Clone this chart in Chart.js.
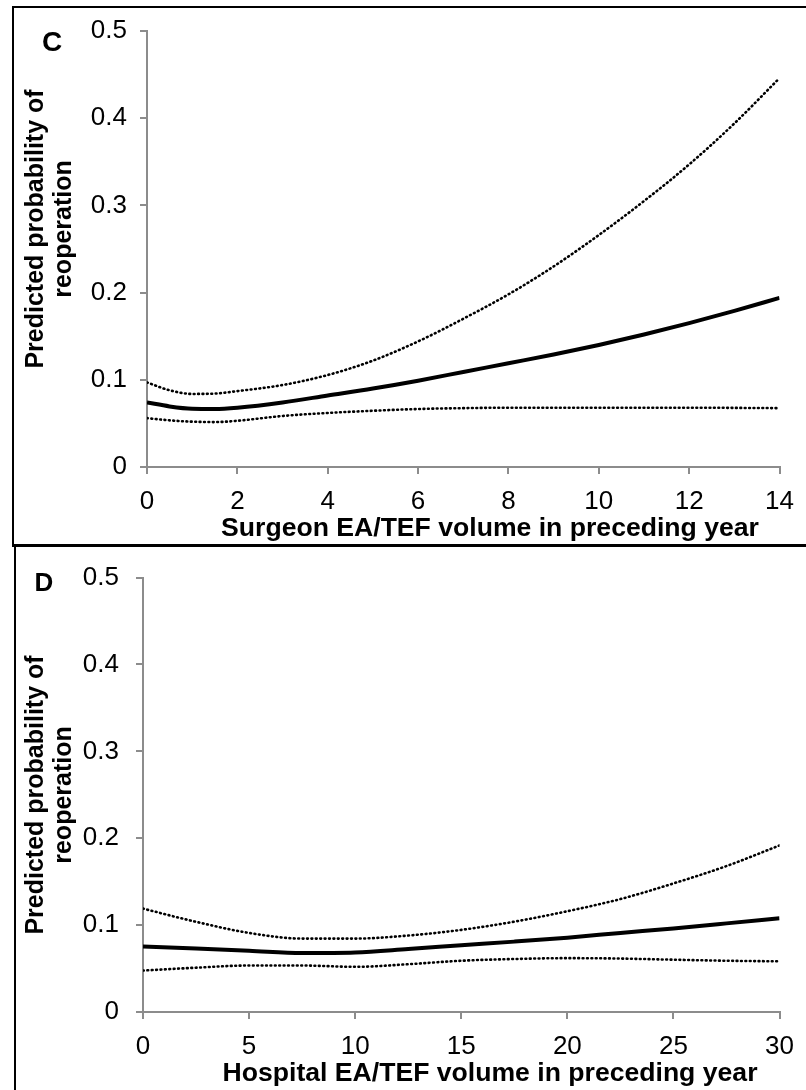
<!DOCTYPE html>
<html>
<head>
<meta charset="utf-8">
<script src="https://cdn.jsdelivr.net/npm/chart.js@4.4.0/dist/chart.umd.min.js"></script>
<style>
html,body{margin:0;padding:0;background:#fff;}
body{width:806px;height:1090px;position:relative;overflow:hidden;}
canvas{position:absolute;left:0;}
#chartC{top:0;}
#chartD{top:545px;}
.frameC{position:absolute;left:12px;top:6px;width:800px;height:536px;border-top:2px solid #000;border-left:2px solid #000;border-bottom:3px solid #000;}
.frameD{position:absolute;left:14px;top:545px;width:0;height:545px;border-left:2px solid #000;}
</style>
</head>
<body>
<canvas id="chartC" width="806" height="545"></canvas>
<canvas id="chartD" width="806" height="545"></canvas>
<div class="frameC"></div>
<div class="frameD"></div>
<script>
// ---------- Panel C data ----------
const surgeonVolume = [0, 0.5, 1, 1.5, 2, 3, 4, 5, 6, 7, 8, 9, 10, 11, 12, 13, 14];
const surgeonPredicted = [0.074, 0.0695, 0.0668, 0.0665, 0.068, 0.074, 0.082, 0.090, 0.099, 0.109, 0.119, 0.129, 0.140, 0.152, 0.165, 0.179, 0.194];
const surgeonUpper = [0.097, 0.088, 0.0838, 0.0842, 0.087, 0.094, 0.1055, 0.122, 0.144, 0.170, 0.198, 0.230, 0.266, 0.305, 0.347, 0.394, 0.446];
const surgeonLower = [0.056, 0.0535, 0.052, 0.0515, 0.053, 0.0585, 0.062, 0.0645, 0.0665, 0.0675, 0.068, 0.068, 0.068, 0.068, 0.068, 0.0678, 0.0675];
const surgeonXTicks = ['0', '2', '4', '6', '8', '10', '12', '14'];

// ---------- Panel D data ----------
const hospitalVolume = [0, 2.5, 5, 7.5, 10, 12.5, 15, 17.5, 20, 22.5, 25, 27.5, 30];
const hospitalPredicted = [0.0755, 0.073, 0.0705, 0.0678, 0.0685, 0.0725, 0.0768, 0.081, 0.0856, 0.091, 0.0962, 0.102, 0.108];
const hospitalUpper = [0.119, 0.1038, 0.091, 0.0845, 0.0845, 0.088, 0.0945, 0.104, 0.116, 0.130, 0.148, 0.168, 0.1917];
const hospitalLower = [0.0477, 0.051, 0.0535, 0.0535, 0.052, 0.055, 0.059, 0.061, 0.062, 0.0615, 0.0602, 0.059, 0.0583];
const hospitalXTicks = ['0', '5', '10', '15', '20', '25', '30'];

// ---------- shared ----------
const yTickLabels = ['0', '0.1', '0.2', '0.3', '0.4', '0.5'];
const yTitleLines = ['Predicted probability of', 'reoperation'];
const surgeonXTitle = 'Surgeon EA/TEF volume in preceding year';
const hospitalXTitle = 'Hospital EA/TEF volume in preceding year';

const FONT = '"Liberation Sans", Arial, Helvetica, sans-serif';
const AXIS_GREY = '#8c8c8c';

const textPlugin = {
  id: 'panelText',
  afterDraw(chart, args, o) {
    const ctx = chart.ctx;
    ctx.save();
    ctx.fillStyle = '#000';
    ctx.textAlign = 'center';
    ctx.textBaseline = 'middle';
    ctx.font = `bold ${o.letterSize}px ${FONT}`;
    ctx.fillText(o.letter, o.letterX, o.letterY);
    ctx.font = `bold ${o.xTitleSize}px ${FONT}`;
    ctx.textBaseline = 'alphabetic';
    ctx.fillText(o.xTitle, o.xTitleX, o.xTitleY);
    ctx.font = `bold ${o.yTitleSize}px ${FONT}`;
    ctx.textBaseline = 'middle';
    ctx.translate(o.yTitleX, o.yTitleY);
    ctx.rotate(-Math.PI / 2);
    o.yTitle.forEach((line, i) => ctx.fillText(line, 0, i * o.yLineGap));
    ctx.restore();
  }
};

function toPoints(xs, ys) { return xs.map((x, i) => ({x: x, y: ys[i]})); }

function makePanel(id, xs, mid, up, lo, xTicks, xMax, xStep, lay, text) {
  const dotted = {
    borderColor: '#000', borderWidth: 2.6, borderDash: [0.8, 3.6], borderCapStyle: 'round',
    pointRadius: 0, fill: false, cubicInterpolationMode: 'monotone'
  };
  new Chart(document.getElementById(id), {
    type: 'line',
    data: {
      datasets: [
        Object.assign({label: 'upper', data: toPoints(xs, up)}, dotted),
        Object.assign({label: 'lower', data: toPoints(xs, lo)}, dotted),
        {label: 'predicted', data: toPoints(xs, mid), borderColor: '#000', borderWidth: 4,
         pointRadius: 0, fill: false, cubicInterpolationMode: 'monotone', borderCapStyle: 'butt'}
      ]
    },
    options: {
      responsive: false,
      animation: false,
      devicePixelRatio: 1,
      layout: {padding: {left: 0, right: lay.right, top: lay.top, bottom: 0}},
      plugins: {
        legend: {display: false},
        tooltip: {enabled: false},
        panelText: text
      },
      scales: {
        x: {
          type: 'linear', min: 0, max: xMax,
          afterFit: s => { s.height = 78; },
          ticks: {stepSize: xStep, color: '#000', padding: 12, maxRotation: 0,
                  font: {family: FONT, size: 26},
                  callback: (v, i) => xTicks[i]},
          grid: {display: true, drawOnChartArea: false, drawTicks: true, tickLength: 7, color: AXIS_GREY, lineWidth: 2},
          border: {display: true, color: AXIS_GREY, width: 2}
        },
        y: {
          type: 'linear', min: 0, max: 0.5,
          afterFit: s => { s.width = lay.left; },
          ticks: {stepSize: 0.1, color: '#000', padding: lay.yPad,
                  font: {family: FONT, size: 26},
                  callback: v => yTickLabels[Math.round(v * 10)]},
          grid: {display: true, drawOnChartArea: false, drawTicks: true, tickLength: 7, color: AXIS_GREY, lineWidth: 2},
          border: {display: true, color: AXIS_GREY, width: 2}
        }
      }
    },
    plugins: [textPlugin]
  });
}

makePanel('chartC', surgeonVolume, surgeonPredicted, surgeonUpper, surgeonLower,
  surgeonXTicks, 14, 2,
  {left: 147, right: 15, top: 31, yPad: 13},
  {letter: 'C', letterSize: 28, letterX: 52, letterY: 43,
   xTitle: surgeonXTitle, xTitleSize: 26.6, xTitleX: 490, xTitleY: 536,
   yTitle: yTitleLines, yTitleSize: 25, yTitleX: 36, yTitleY: 229, yLineGap: 28});

makePanel('chartD', hospitalVolume, hospitalPredicted, hospitalUpper, hospitalLower,
  hospitalXTicks, 30, 5,
  {left: 143, right: 19, top: 27, yPad: 17},
  {letter: 'D', letterSize: 26, letterX: 44, letterY: 39,
   xTitle: hospitalXTitle, xTitleSize: 26.6, xTitleX: 490, xTitleY: 536,
   yTitle: yTitleLines, yTitleSize: 25, yTitleX: 36, yTitleY: 250, yLineGap: 28});
</script>
</body>
</html>
